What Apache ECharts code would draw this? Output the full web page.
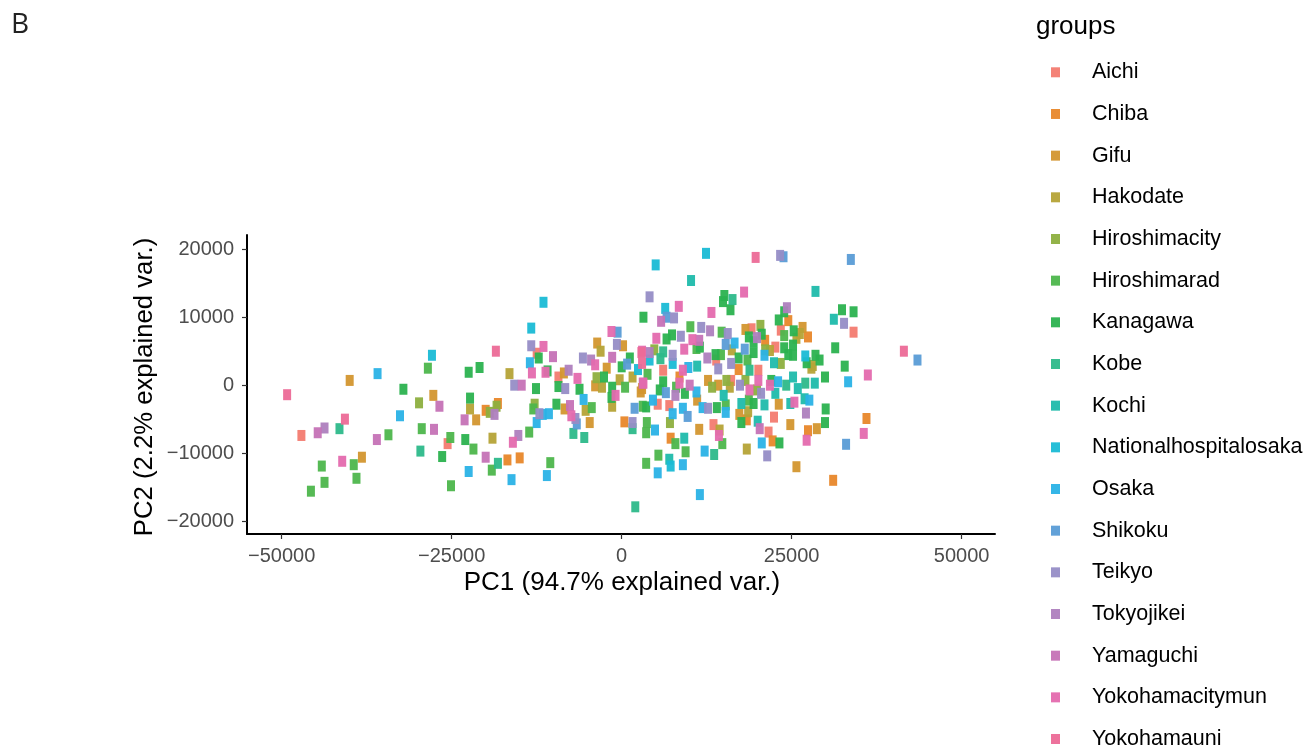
<!DOCTYPE html>
<html>
<head>
<meta charset="utf-8">
<script src="https://cdn.jsdelivr.net/npm/echarts@6/dist/echarts.min.js"></script>
<style>
  html, body { margin: 0; padding: 0; background: #ffffff; }
  #chart { width: 1314px; height: 752px; }
</style>
</head>
<body>
<div id="chart"></div>
<script>
// ---- Data (PC1, PC2) per group ----
const groups = ["Aichi","Chiba","Gifu","Hakodate","Hiroshimacity","Hiroshimarad","Kanagawa","Kobe","Kochi","Nationalhospitalosaka","Osaka","Shikoku","Teikyo","Tokyojikei","Yamaguchi","Yokohamacitymun","Yokohamauni"];
const colors = ["#F37B70","#E8872A","#D3962F","#B5A337","#8DAF3F","#4DB64C","#2BB24F","#2DB98A","#1FBAAB","#1ABBD5","#2AB2E6","#5A9CD6","#968DC6","#AE80BE","#C572B6","#E46AAE","#EC6A97"];

const Aichi = [[-47100,-7400],[-25600,-8600],[-12500,4700],[-9300,1200],[19100,8300],[23400,8100],[22600,5600],[6100,2200],[5300,-2800],[7000,-3000],[22400,-4700],[21600,-6900],[13500,-5800],[34100,7800],[20100,2200],[13900,3700],[16100,700]];
const Chiba = [[-18200,-2700],[-20000,-3700],[-16800,-11000],[-15000,-10700],[400,-5400],[24500,9500],[21100,6600],[27400,7100],[8500,1200],[17200,2300],[18400,-5100],[22200,-8200],[27400,-6700],[31100,-14000],[7200,-7800],[36000,-4900]];
const Gifu = [[-40000,700],[-27700,-1500],[-38200,-10600],[-21400,-5100],[-8500,1800],[-3600,6200],[-2200,2500],[200,5800],[-3900,-100],[3000,-500],[-8400,-3500],[-4700,-5500],[2800,-1000],[18200,8200],[26600,8500],[11100,-2200],[17300,-4300],[23100,-2800],[24800,-5800],[28700,-6400],[25700,-12000],[11400,-6500],[12700,700],[14200,0]];
const Hakodate = [[-16500,1700],[-3100,5000],[1600,1200],[-300,800],[-2900,-300],[-22300,-3500],[-5300,-3700],[-1400,-3100],[-19000,-7800],[25700,6900],[16200,5200],[28100,2900],[18600,-3900],[18400,-9400],[14400,-6600],[21800,5100],[26200,7600],[27900,2500],[15900,-300]];
const Hiroshimacity = [[-29800,-2600],[-18400,-3100],[-19400,-4000],[-12800,-2800],[-3700,1100],[20400,8800],[4800,5200],[21100,5200],[23400,3200],[18200,700],[15400,700],[13300,-300],[19900,-700],[7100,-5500]];
const Hiroshimarad = [[-28500,2500],[-34300,-7300],[-29400,-6400],[-25200,-7700],[-44100,-11900],[-39400,-11700],[-43700,-14300],[-39000,-13700],[-45700,-15600],[-25100,-14800],[500,-300],[3800,1600],[-13000,-3500],[-4400,-3300],[3100,-3100],[3700,-5500],[3600,-7000],[-21800,-9400],[-13600,-6900],[-19100,-12500],[-10500,-11400],[3600,-11500],[10100,8600],[14700,7800],[23900,7300],[11000,5400],[14600,4500],[15300,-2900],[18700,-2200],[7900,-8600],[9400,-9800],[14800,-8600],[5400,-10300],[18500,3700],[8000,-300]];
const Kanagawa = [[-32100,-600],[-22500,1900],[-20900,2600],[-26400,-10500],[-12200,4000],[-10900,2100],[1200,4000],[3200,10000],[0,2700],[-2600,1200],[-12600,-500],[-9300,-200],[-6200,-600],[-22300,-1900],[-9600,-2800],[-1500,-1800],[-23000,-8000],[15100,13200],[14900,12300],[16000,11100],[23900,10800],[23100,9600],[6600,6800],[7400,7400],[18700,7100],[20600,7500],[25300,8000],[31400,5500],[25200,5900],[23900,5500],[24500,4500],[11500,5600],[17200,4000],[19400,4800],[25200,4400],[28500,4400],[27200,3300],[29900,1200],[22000,700],[6100,500],[9300,-1200],[3600,-3200],[14000,-3300],[17600,-5500],[19400,-2700],[23200,-8500],[30000,-3500],[29900,-5500],[32400,11100],[34100,10800],[32800,2800],[-1400,-300],[13800,4500],[19400,6400],[29100,3700],[5600,-700]];
const Kobe = [[-41500,-6400],[-29600,-9700],[-7100,-7100],[-5500,-7700],[1600,-6400],[-18200,-11500],[2000,-17900],[16300,12600],[6100,4900],[5700,3900],[18800,2200],[27000,300],[13600,-10200],[24200,0]];
const Kochi = [[10200,15400],[28500,13800],[31200,9700],[22400,3300],[25200,1200],[28400,300],[11100,2800],[15000,-1500],[17600,-2700],[21000,-2900],[22600,-1200],[20000,-5300],[24800,-2700],[26900,-2000],[9200,-7800],[7000,-10900],[25900,-500]];
const Nationalhospitalosaka = [[-27900,4400],[-11500,12200],[-13300,8400],[2400,2300],[5000,17700],[12400,19400],[6400,11300],[27000,4300],[4100,3700],[7500,3200],[7200,-11900]];
const Osaka = [[-35900,1700],[-32600,-4500],[-13500,3300],[-5600,-2100],[-11600,-4300],[-10700,-4200],[-12500,-5500],[-22500,-12700],[-16200,-13900],[-11000,-13300],[9800,2600],[21000,4400],[23000,500],[9000,-3400],[7500,-4200],[11900,-3300],[15300,-4000],[27600,-2200],[20600,-8500],[4900,-6600],[9000,-11700],[12200,-9700],[5300,-12900],[11500,-16100],[33300,500],[16600,6200],[4600,-2200],[11000,-1000]];
const Shikoku = [[-600,7800],[800,3100],[-6600,-5700],[1900,-3400],[23800,18900],[6600,10000],[15300,6000],[18100,5300],[6500,-1100],[9700,-4600],[33700,18500],[43500,3700],[33000,-8700]];
const Teikyo = [[-13300,5800],[-5700,4000],[-700,6000],[4100,13000],[-15800,0],[-8300,-500],[-12100,-4200],[-6800,-4900],[1600,-5500],[23300,19100],[7700,9900],[11700,8500],[15600,7600],[8700,7200],[14200,2400],[16100,3200],[12700,-3400],[20500,-1200],[21400,-10400],[32700,9100],[7500,4400],[17400,0]];
const Tokyojikei = [[-43700,-6300],[-7800,2200],[-4500,3700],[-18700,-4300],[-15200,-7400],[24300,11400],[13000,8000],[7900,-1500],[27100,-4100],[19900,7000],[4100,4800],[12600,4000]];
const Yamaguchi = [[-44700,-7000],[-26800,-3100],[-36000,-8000],[-27600,-6500],[-10100,4200],[-14700,0],[-1400,4100],[3100,300],[-23100,-5100],[-20000,-10600],[-7600,-3000],[5800,9400],[11400,6600],[20300,-6400],[10000,0]];
const Yokohamacitymun = [[-41100,-11200],[-11500,5700],[-13200,1800],[-11200,1900],[-6500,1000],[-3900,3000],[-1500,7900],[-7400,-4500],[-900,-1500],[-16000,-8400],[18000,13700],[8400,11600],[13200,10700],[5100,6900],[10400,6700],[3000,5000],[9200,5300],[20100,700],[18800,-700],[25400,-2500],[14300,-7400],[27200,-8100],[36200,1500],[35600,-7100],[9000,2200],[8500,300],[3200,300],[21800,0]];
const Yokohamauni = [[-49200,-1400],[-40700,-5000],[-18500,5000],[2900,4800],[19700,18800],[41500,5000],[3000,3200]];

const xTicks = [-50000, -25000, 0, 25000, 50000];
const yTicks = [-20000, -10000, 0, 10000, 20000];
const xTitle = "PC1 (94.7% explained var.)";
const yTitle = "PC2 (2.2% explained var.)";
const legendTitle = "groups";
const panelLabel = "B";

const seriesData = [Aichi, Chiba, Gifu, Hakodate, Hiroshimacity, Hiroshimarad, Kanagawa, Kobe, Kochi, Nationalhospitalosaka, Osaka, Shikoku, Teikyo, Tokyojikei, Yamaguchi, Yokohamacitymun, Yokohamauni];

const FONT = "'Liberation Sans', Arial, sans-serif";
const minus = v => String(v).replace('-', '\u2212');

const chart = echarts.init(document.getElementById('chart'), null, { renderer: 'canvas' });
chart.setOption({
  animation: false,
  backgroundColor: '#ffffff',
  color: colors,
  grid: { left: 247, right: 319, top: 235, bottom: 218, containLabel: false },
  xAxis: {
    type: 'value', min: -55100, max: 54900,
    splitLine: { show: false },
    axisLine: { show: true, onZero: false, lineStyle: { color: '#000', width: 2 } },
    axisTick: { show: true, length: 5, customValues: xTicks, lineStyle: { color: '#333', width: 1.2 } },
    axisLabel: { customValues: xTicks, formatter: minus, color: '#4D4D4D', fontSize: 20, fontFamily: FONT, margin: 12 }
  },
  yAxis: {
    type: 'value', min: -21900, max: 22100,
    splitLine: { show: false },
    axisLine: { show: true, onZero: false, lineStyle: { color: '#000', width: 2 } },
    axisTick: { show: true, length: 5, customValues: yTicks, lineStyle: { color: '#333', width: 1.2 } },
    axisLabel: { customValues: yTicks, formatter: minus, color: '#4D4D4D', fontSize: 20, fontFamily: FONT, margin: 13 }
  },
  legend: {
    orient: 'vertical', left: 1051, top: 61.3, height: 720, padding: 0,
    icon: 'rect', itemWidth: 9, itemHeight: 10, itemGap: 19.67,
    textStyle: { fontSize: 21.5, fontFamily: FONT, color: '#000', lineHeight: 22, padding: [0, 0, 0, 27] },
    data: groups
  },
  graphic: [
    { type: 'text', left: 11, top: 11, style: { text: panelLabel, fontSize: 28, fontFamily: "'Open Sans', sans-serif", fill: '#222' } },
    { type: 'text', x: 1036, y: 27, style: { text: legendTitle, fontSize: 26, fontFamily: FONT, fill: '#000', verticalAlign: 'middle' } },
    { type: 'text', x: 622, y: 583, style: { text: xTitle, fontSize: 26, fontFamily: FONT, fill: '#000', align: 'center', verticalAlign: 'middle' } },
    { type: 'text', x: 145, y: 387, rotation: Math.PI / 2, style: { text: yTitle, fontSize: 25.7, fontFamily: FONT, fill: '#000', align: 'center', verticalAlign: 'middle' } }
  ],
  series: groups.map((g, i) => ({
    name: g, type: 'scatter', symbol: 'rect', symbolSize: [8, 11],
    itemStyle: { color: colors[i], opacity: 0.95 },
    data: seriesData[i]
  }))
});
</script>
</body>
</html>
